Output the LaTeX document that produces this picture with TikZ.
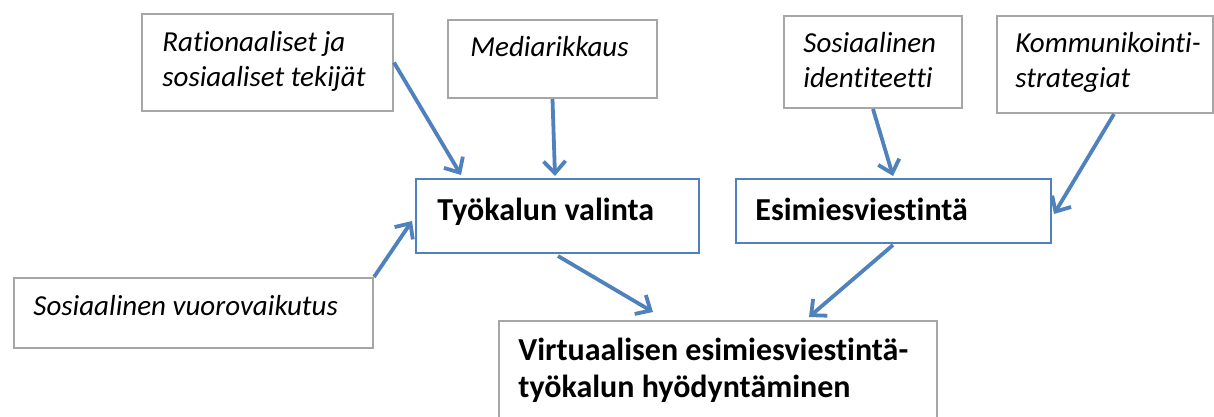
\documentclass[tikz,border=0pt]{standalone}
\usepackage{fontspec}
\setmainfont{Carlito}[Ligatures=NoCommon]
\usetikzlibrary{arrows.meta,calc}
\definecolor{accent}{RGB}{79,129,189}
\definecolor{boxgray}{RGB}{166,166,166}
\tikzset{
  factorbox/.style={draw=boxgray, line width=1pt, fill=white, inner sep=0pt, anchor=north west},
  corebox/.style={draw=accent, line width=1pt, fill=white, inner sep=0pt, anchor=north west},
  factortext/.style={anchor=base west, inner sep=0pt, font=\itshape\fontsize{14.5}{17}\selectfont},
  coretext/.style={anchor=base west, inner sep=0pt, font=\bfseries\fontsize{16}{19}\selectfont},
  flow/.style={draw=accent, line width=1.9pt, -{Straight Barb[length=6pt,width=11pt]}},
}
\begin{document}
\begin{tikzpicture}[x=0.5pt, y=-0.5pt]
  \useasboundingbox (0,0) rectangle (1214,417);
  \clip (0,0) rectangle (1214,417);

  % influencing factors
  \node[factorbox, minimum width=125.5pt, minimum height=48.5pt] (R) at (141,13) {};
  \node[factortext] (Rt1) at (162,52) {Rationaaliset ja};
  \node[factortext] (Rt2) at (162,87) {sosiaaliset tekijät};

  \node[factorbox, minimum width=104.5pt, minimum height=39pt] (M) at (447,19) {};
  \node[factortext] (Mt) at (470,57) {Mediarikkaus};

  \node[factorbox, minimum width=89pt, minimum height=46pt] (SI) at (783,15) {};
  \node[factortext] (SIt1) at (803,53) {Sosiaalinen};
  \node[factortext] (SIt2) at (803,88) {identiteetti};

  \node[factorbox, minimum width=108pt, minimum height=48.5pt] (K) at (996,15) {};
  \node[factortext] (Kt1) at (1015,53) {Kommunikointi-};
  \node[factortext] (Kt2) at (1015,88) {strategiat};

  \node[factorbox, minimum width=179.5pt, minimum height=35pt] (S) at (13,277) {};
  \node[factortext] (St) at (33,315) {Sosiaalinen vuorovaikutus};

  % core concepts
  \node[corebox, minimum width=141.5pt, minimum height=37pt] (T) at (415,178) {};
  \node[coretext] (Tt) at (437,220) {Työkalun valinta};

  \node[corebox, minimum width=157.5pt, minimum height=32pt] (E) at (735,178) {};
  \node[coretext] (Et) at (755,220) {Esimiesviestintä};

  % outcome
  \node[factorbox, minimum width=219pt, minimum height=60pt] (V) at (498,320) {};
  \node[coretext] (Vt1) at (518,360) {Virtuaalisen esimiesviestintä-};
  \node[coretext] (Vt2) at (518,397) {työkalun hyödyntäminen};

  % connectors
  \draw[flow] (R.east) -- ($(T.north west)+(46,-3)$);
  \draw[flow] (M.south) -- ($(T.north west)+(140,-2)$);
  \draw[flow] (S.north east) -- ($(T.west)+(-3,5)$);
  \draw[flow] (SI.south) -- ($(E.north west)+(158,-2)$);
  \draw[flow] ($(K.south)+(9,0)$) -- ($(E.east)+(2,3)$);
  \draw[flow] ($(T.south west)+(143,2)$) -- ($(V.north west)+(155,-8)$);
  \draw[flow] ($(E.south west)+(158,1)$) -- ($(V.north west)+(311,-3)$);
\end{tikzpicture}
\end{document}
